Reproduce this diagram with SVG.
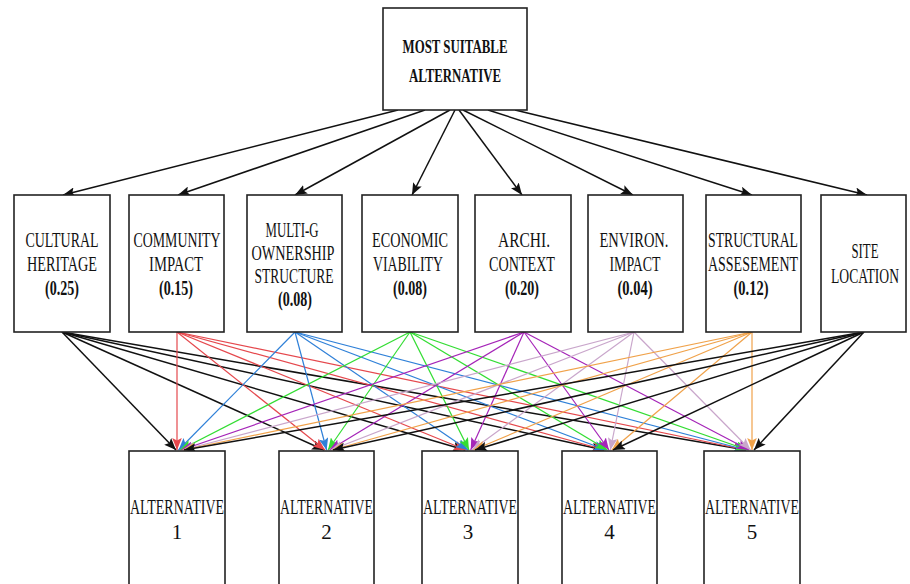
<svg xmlns="http://www.w3.org/2000/svg" width="910" height="584" viewBox="0 0 910 584">
<style>
.box{fill:#fff;stroke:#222;stroke-width:1.6}
.t{font-family:"Liberation Serif","Times New Roman",serif;fill:#111;text-anchor:middle}
.c{font-size:21px}
.b{font-weight:bold}
.e{fill:none;stroke-width:1.2}
.k{stroke:#111;stroke-width:1.5}
.r{stroke:#e5484d}
.bl{stroke:#2f80d8}
.g{stroke:#33dd33}
.p{stroke:#a524b8}
.pl{stroke:#c9a6cb}
.o{stroke:#f0a24a}
</style>
<defs>
<marker id="mk" markerUnits="userSpaceOnUse" viewBox="0 0 10 8" markerWidth="12" markerHeight="9.6" refX="10" refY="4" orient="auto"><path d="M0,0 L10,4 L0,8 L2,4 z" fill="#111"/></marker>
<marker id="mr" markerUnits="userSpaceOnUse" viewBox="0 0 10 8" markerWidth="12" markerHeight="9.6" refX="10" refY="4" orient="auto"><path d="M0,0 L10,4 L0,8 L2,4 z" fill="#e5484d"/></marker>
<marker id="mb" markerUnits="userSpaceOnUse" viewBox="0 0 10 8" markerWidth="12" markerHeight="9.6" refX="10" refY="4" orient="auto"><path d="M0,0 L10,4 L0,8 L2,4 z" fill="#2f80d8"/></marker>
<marker id="mg" markerUnits="userSpaceOnUse" viewBox="0 0 10 8" markerWidth="12" markerHeight="9.6" refX="10" refY="4" orient="auto"><path d="M0,0 L10,4 L0,8 L2,4 z" fill="#33dd33"/></marker>
<marker id="mp" markerUnits="userSpaceOnUse" viewBox="0 0 10 8" markerWidth="12" markerHeight="9.6" refX="10" refY="4" orient="auto"><path d="M0,0 L10,4 L0,8 L2,4 z" fill="#a524b8"/></marker>
<marker id="ml" markerUnits="userSpaceOnUse" viewBox="0 0 10 8" markerWidth="12" markerHeight="9.6" refX="10" refY="4" orient="auto"><path d="M0,0 L10,4 L0,8 L2,4 z" fill="#c9a6cb"/></marker>
<marker id="mo" markerUnits="userSpaceOnUse" viewBox="0 0 10 8" markerWidth="12" markerHeight="9.6" refX="10" refY="4" orient="auto"><path d="M0,0 L10,4 L0,8 L2,4 z" fill="#f0a24a"/></marker>
</defs>
<rect width="910" height="584" fill="#fff"/>

<g id="connectors">
<g class="e k" marker-end="url(#mk)">
<line x1="398" y1="110" x2="63" y2="195"/>
<line x1="425" y1="110" x2="178" y2="195"/>
<line x1="450" y1="110" x2="295" y2="195"/>
<line x1="455" y1="110" x2="412" y2="195"/>
<line x1="459" y1="110" x2="522" y2="195"/>
<line x1="463" y1="110" x2="633" y2="195"/>
<line x1="488" y1="110" x2="752" y2="195"/>
<line x1="515" y1="110" x2="867" y2="195"/>
</g>
<g class="e k" marker-end="url(#mk)">
<line x1="62" y1="332" x2="176" y2="450"/>
<line x1="62" y1="332" x2="324" y2="450"/>
<line x1="62" y1="332" x2="465" y2="450"/>
<line x1="62" y1="332" x2="604" y2="450"/>
<line x1="62" y1="332" x2="746" y2="450"/>
</g>
<g class="e r" marker-end="url(#mr)">
<line x1="177" y1="332" x2="177" y2="450"/>
<line x1="177" y1="332" x2="325" y2="450"/>
<line x1="177" y1="332" x2="466" y2="450"/>
<line x1="177" y1="332" x2="605" y2="450"/>
<line x1="177" y1="332" x2="746" y2="450"/>
</g>
<g class="e bl" marker-end="url(#mb)">
<line x1="295" y1="332" x2="178.5" y2="450"/>
<line x1="295" y1="332" x2="326.6" y2="450"/>
<line x1="295" y1="332" x2="468" y2="450"/>
<line x1="295" y1="332" x2="606" y2="450"/>
<line x1="295" y1="332" x2="746.3" y2="450"/>
</g>
<g class="e g" marker-end="url(#mg)">
<line x1="410" y1="332" x2="180" y2="450"/>
<line x1="410" y1="332" x2="328" y2="450"/>
<line x1="410" y1="332" x2="469" y2="450"/>
<line x1="410" y1="332" x2="607.5" y2="450"/>
<line x1="410" y1="332" x2="747.7" y2="450"/>
</g>
<g class="e p" marker-end="url(#mp)">
<line x1="524" y1="332" x2="181.3" y2="450"/>
<line x1="524" y1="332" x2="329.5" y2="450"/>
<line x1="524" y1="332" x2="470.7" y2="450"/>
<line x1="524" y1="332" x2="609" y2="450"/>
<line x1="524" y1="332" x2="749" y2="450"/>
</g>
<g class="e pl" marker-end="url(#ml)">
<line x1="634" y1="332" x2="182.7" y2="450"/>
<line x1="634" y1="332" x2="330.8" y2="450"/>
<line x1="634" y1="332" x2="472" y2="450"/>
<line x1="634" y1="332" x2="610.3" y2="450"/>
<line x1="634" y1="332" x2="750.5" y2="450"/>
</g>
<g class="e o" marker-end="url(#mo)">
<line x1="752" y1="332" x2="183" y2="450"/>
<line x1="752" y1="332" x2="332.3" y2="450"/>
<line x1="752" y1="332" x2="473.5" y2="450"/>
<line x1="752" y1="332" x2="611.8" y2="450"/>
<line x1="752" y1="332" x2="752" y2="450"/>
</g>
<g class="e k" marker-end="url(#mk)">
<line x1="864" y1="332" x2="184" y2="450"/>
<line x1="864" y1="332" x2="333" y2="450"/>
<line x1="864" y1="332" x2="475" y2="450"/>
<line x1="864" y1="332" x2="613" y2="450"/>
<line x1="864" y1="332" x2="754" y2="450"/>
</g>
</g>

<g id="goal">
<rect class="box" x="383" y="8" width="144" height="102"/>
<text class="t b" font-size="18" x="455" y="53" textLength="105" lengthAdjust="spacingAndGlyphs">MOST SUITABLE</text>
<text class="t b" font-size="18" x="455" y="82" textLength="92" lengthAdjust="spacingAndGlyphs">ALTERNATIVE</text>
</g>

<g id="c-cultural">
<rect class="box" x="14" y="195" width="96" height="137"/>
<text class="t c" x="62" y="247" textLength="73" lengthAdjust="spacingAndGlyphs">CULTURAL</text>
<text class="t c" x="62" y="271" textLength="70" lengthAdjust="spacingAndGlyphs">HERITAGE</text>
<text class="t c b" x="62" y="295" textLength="34" lengthAdjust="spacingAndGlyphs">(0.25)</text>
</g>
<g id="c-community">
<rect class="box" x="129" y="195" width="95" height="137"/>
<text class="t c" x="177" y="247" textLength="87" lengthAdjust="spacingAndGlyphs">COMMUNITY</text>
<text class="t c" x="176" y="271" textLength="54" lengthAdjust="spacingAndGlyphs">IMPACT</text>
<text class="t c b" x="176" y="295" textLength="34" lengthAdjust="spacingAndGlyphs">(0.15)</text>
</g>
<g id="c-multig">
<rect class="box" x="247" y="195" width="95" height="137"/>
<text class="t c" x="292" y="237" textLength="53" lengthAdjust="spacingAndGlyphs">MULTI-G</text>
<text class="t c" x="293" y="260" textLength="83" lengthAdjust="spacingAndGlyphs">OWNERSHIP</text>
<text class="t c" x="294" y="283" textLength="79" lengthAdjust="spacingAndGlyphs">STRUCTURE</text>
<text class="t c b" x="295" y="306" textLength="34" lengthAdjust="spacingAndGlyphs">(0.08)</text>
</g>
<g id="c-economic">
<rect class="box" x="362" y="195" width="96" height="137"/>
<text class="t c" x="410" y="247" textLength="76" lengthAdjust="spacingAndGlyphs">ECONOMIC</text>
<text class="t c" x="408" y="271" textLength="70" lengthAdjust="spacingAndGlyphs">VIABILITY</text>
<text class="t c b" x="410" y="295" textLength="34" lengthAdjust="spacingAndGlyphs">(0.08)</text>
</g>
<g id="c-archi">
<rect class="box" x="475" y="195" width="96" height="137"/>
<text class="t c" x="524" y="247" textLength="52" lengthAdjust="spacingAndGlyphs">ARCHI.</text>
<text class="t c" x="522" y="271" textLength="66" lengthAdjust="spacingAndGlyphs">CONTEXT</text>
<text class="t c b" x="522" y="295" textLength="34" lengthAdjust="spacingAndGlyphs">(0.20)</text>
</g>
<g id="c-environ">
<rect class="box" x="588" y="195" width="95" height="137"/>
<text class="t c" x="634" y="247" textLength="69" lengthAdjust="spacingAndGlyphs">ENVIRON.</text>
<text class="t c" x="635" y="271" textLength="51" lengthAdjust="spacingAndGlyphs">IMPACT</text>
<text class="t c b" x="635" y="295" textLength="35" lengthAdjust="spacingAndGlyphs">(0.04)</text>
</g>
<g id="c-structural">
<rect class="box" x="706" y="195" width="95" height="137"/>
<text class="t c" x="753" y="247" textLength="90" lengthAdjust="spacingAndGlyphs">STRUCTURAL</text>
<text class="t c" x="753" y="271" textLength="90" lengthAdjust="spacingAndGlyphs">ASSESEMENT</text>
<text class="t c b" x="751" y="295" textLength="35" lengthAdjust="spacingAndGlyphs">(0.12)</text>
</g>
<g id="c-site">
<rect class="box" x="821" y="195" width="85" height="137"/>
<text class="t c" x="865" y="258" textLength="27" lengthAdjust="spacingAndGlyphs">SITE</text>
<text class="t c" x="865" y="283" textLength="68" lengthAdjust="spacingAndGlyphs">LOCATION</text>
</g>

<g id="alt-1">
<rect class="box" x="129" y="451" width="96" height="145"/>
<text class="t c" x="177" y="514" textLength="94" lengthAdjust="spacingAndGlyphs">ALTERNATIVE</text>
<text class="t c" x="177" y="539">1</text>
</g>
<g id="alt-2">
<rect class="box" x="279" y="451" width="95" height="145"/>
<text class="t c" x="326.5" y="514" textLength="93" lengthAdjust="spacingAndGlyphs">ALTERNATIVE</text>
<text class="t c" x="326.5" y="539">2</text>
</g>
<g id="alt-3">
<rect class="box" x="422" y="451" width="96" height="145"/>
<text class="t c" x="470" y="514" textLength="94" lengthAdjust="spacingAndGlyphs">ALTERNATIVE</text>
<text class="t c" x="468" y="539">3</text>
</g>
<g id="alt-4">
<rect class="box" x="562" y="451" width="95" height="145"/>
<text class="t c" x="609.5" y="514" textLength="93" lengthAdjust="spacingAndGlyphs">ALTERNATIVE</text>
<text class="t c" x="609.5" y="539">4</text>
</g>
<g id="alt-5">
<rect class="box" x="704" y="451" width="96" height="145"/>
<text class="t c" x="752" y="514" textLength="94" lengthAdjust="spacingAndGlyphs">ALTERNATIVE</text>
<text class="t c" x="752" y="539">5</text>
</g>
</svg>
